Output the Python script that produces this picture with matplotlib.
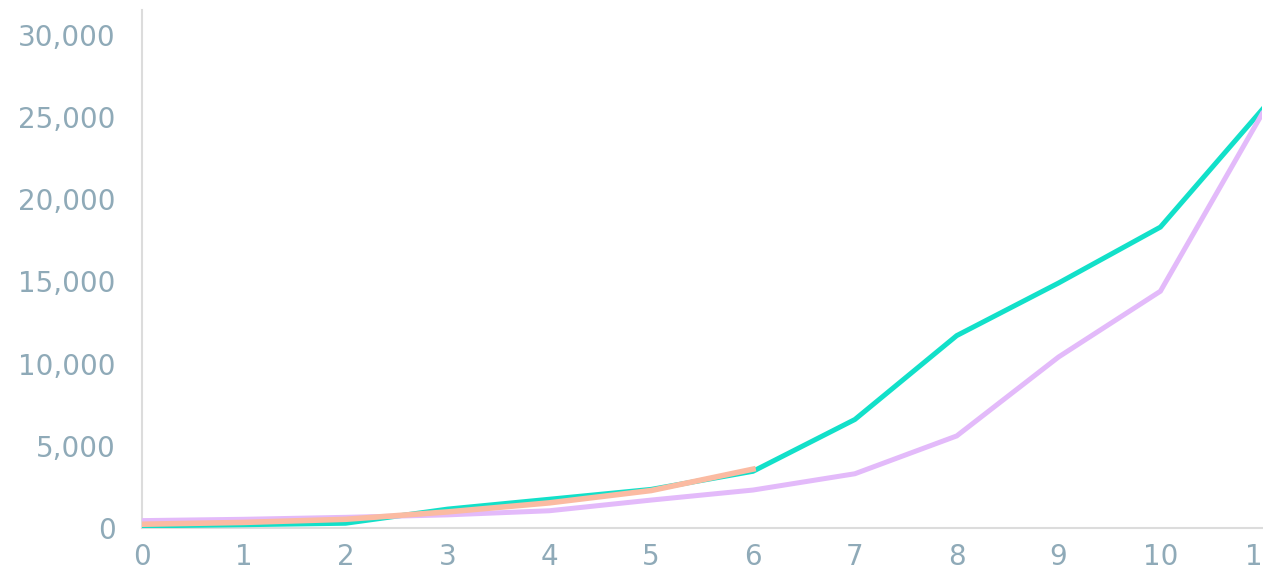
import matplotlib.pyplot as plt
from matplotlib.ticker import FuncFormatter

# values
x_vals = [0, 1, 2, 3, 4, 5, 6, 7, 8, 9, 10, 11]
teal_vals = [130, 200, 290, 1150, 1750, 2350, 3450, 6600, 11700, 14900, 18300, 25450]
purple_vals = [450, 530, 650, 800, 1050, 1700, 2310, 3300, 5600, 10400, 14400, 25200]
peach_x = [0, 1, 2, 3, 4, 5, 6]
peach_vals = [230, 340, 530, 980, 1530, 2280, 3580]

y_ticks = [0, 5000, 10000, 15000, 20000, 25000, 30000]

label_color = "#8FAAB8"
axis_color = "#DCDCDC"

fig = plt.figure(figsize=(12.63, 5.73), dpi=100)
ax = fig.add_axes([0.1124, 0.0785, 0.887, 0.904])

ax.plot(x_vals, teal_vals, color="#12E0C9", lw=3.6, solid_joinstyle="miter", zorder=3)
ax.plot(x_vals, purple_vals, color="#E3BAFA", lw=3.6, solid_joinstyle="miter", zorder=4)
ax.plot(peach_x, peach_vals, color="#FBBBA2", lw=4.0, solid_joinstyle="miter", zorder=5)

ax.set_xlim(0, 11)
ax.set_ylim(0, 31500)
ax.set_xticks(x_vals)
ax.set_yticks(y_ticks)
ax.yaxis.set_major_formatter(FuncFormatter(lambda v, p: f"{int(v):,}"))

for s in ["top", "right"]:
    ax.spines[s].set_visible(False)
for s in ["left", "bottom"]:
    ax.spines[s].set_color(axis_color)
    ax.spines[s].set_linewidth(1.5)

ax.tick_params(axis="both", length=0, labelsize=20, labelcolor=label_color)
ax.tick_params(axis="y", pad=19)
ax.tick_params(axis="x", pad=11)

fig.savefig("out.png", dpi=100)
